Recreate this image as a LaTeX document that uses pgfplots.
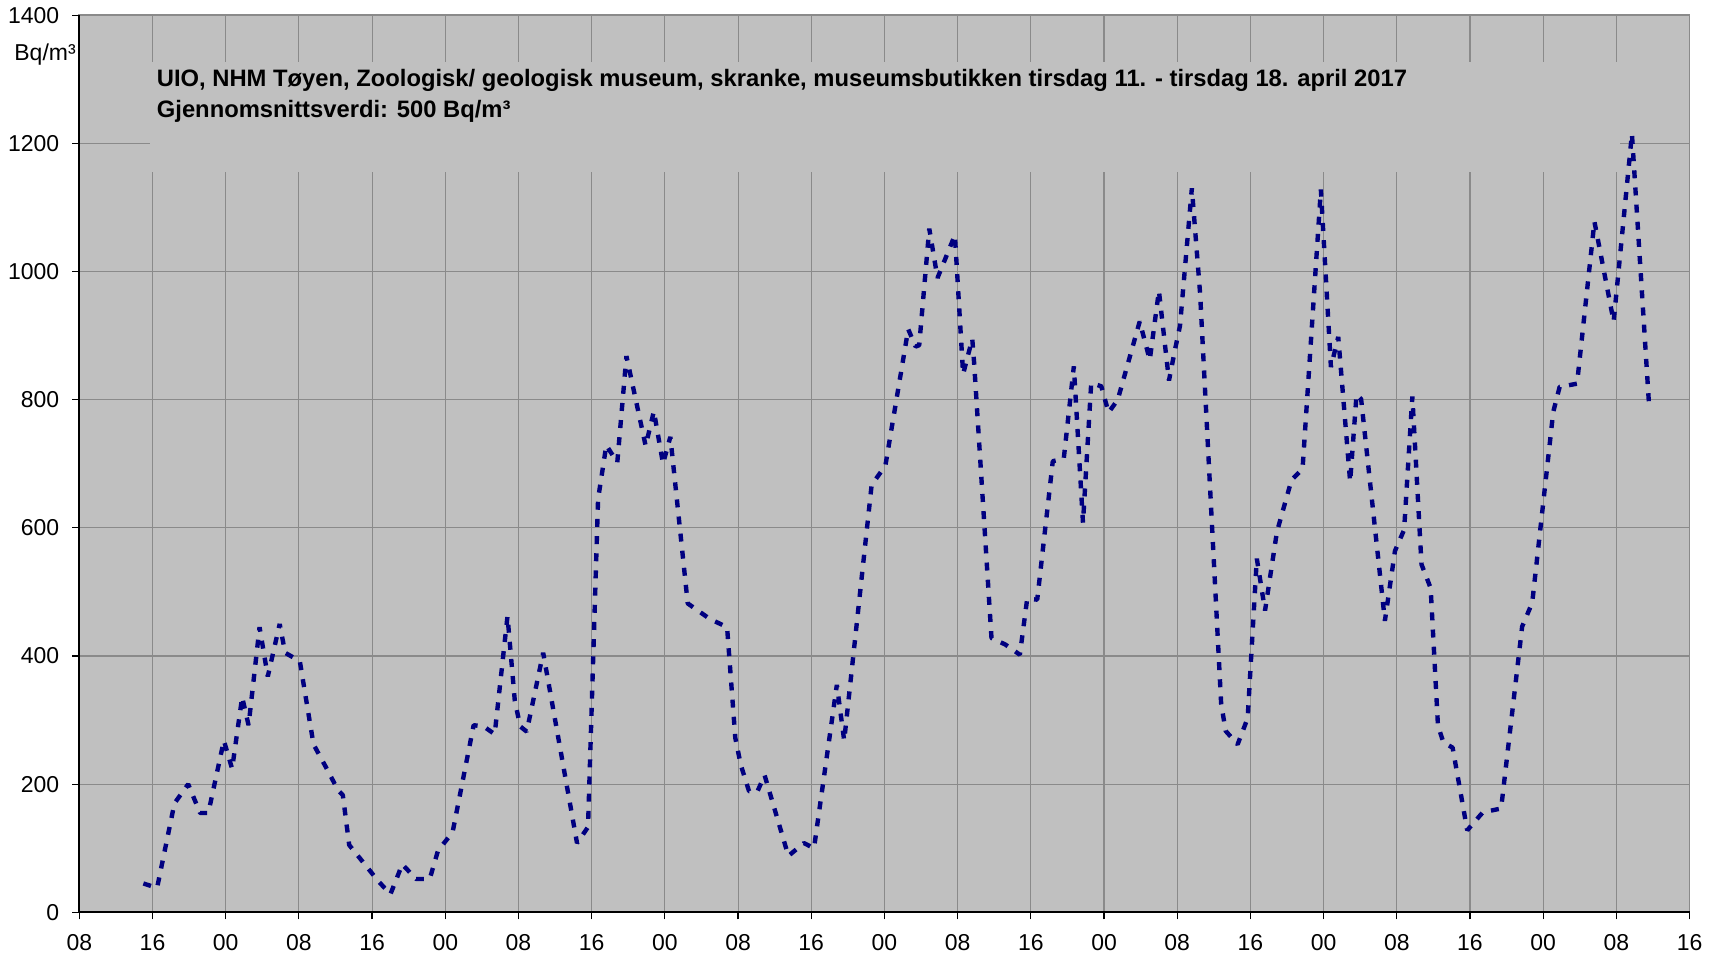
\documentclass[border=0pt]{standalone}
\usepackage{pgfplots}
\pgfplotsset{compat=1.18}
\usepackage{fontspec}
\setmainfont{Liberation Sans}
\definecolor{bggray}{HTML}{C0C0C0}
\definecolor{gridgray}{HTML}{8A8A8A}
\definecolor{navyline}{HTML}{000080}
\begin{document}
\begin{tikzpicture}
\begin{axis}[
  scale only axis,
  width=806.1pt, height=449.05pt,
  xmin=0, xmax=176, ymin=0, ymax=1400,
  axis background/.style={fill=bggray},
  axis line style={gridgray, line width=0.9pt},
  clip=false,
  xtick={0,8,...,176},
  xticklabels={08,16,00,08,16,00,08,16,00,08,16,00,08,16,00,08,16,00,08,16,00,08,16},
  ytick={0,200,...,1400},
  grid=major,
  major grid style={gridgray, line width=0.55pt},
  tick pos=left,
  tick align=outside,
  major tick length=3.5pt,
  tick style={black, line width=0.6pt},
  /pgf/number format/assume math mode=true,
  /pgf/number format/1000 sep={},
  ticklabel style={font=\fontsize{11.5}{13}\selectfont, black},
  xticklabel style={yshift=-4pt},
  yticklabel style={xshift=-3pt},
]
% title box hiding the grid
\fill[bggray] (axis cs:7.7,1156) rectangle (axis cs:168.4,1327);
\node[anchor=base west, inner sep=0pt, font=\fontsize{11.9}{13}\selectfont\bfseries] at (axis cs:8.44,1288.7)
  {UIO, NHM Tøyen, Zoologisk/ geologisk museum, skranke, museumsbutikken tirsdag 11. - tirsdag 18. april 2017};
\node[anchor=base west, inner sep=0pt, font=\fontsize{11.9}{13}\selectfont\bfseries] at (axis cs:8.44,1241.0)
  {Gjennomsnittsverdi: 500 Bq/m³};
\node[anchor=east, inner sep=0pt, font=\fontsize{11.5}{13}\selectfont] at (rel axis cs:-0.002,0.9564) {Bq/m³};

\addplot[navyline, line width=2.2pt, dash pattern=on 4pt off 4.6pt, line join=bevel] coordinates {
(7.0,45) (8.5,38) (10.4,170) (11.9,200) (13.2,155) (14.1,155) (15.8,268) (16.7,224)
(17.8,336) (18.5,292) (19.7,445) (20.6,368) (21.9,450) (22.5,405) (24.1,392) (25.6,262)
(26.9,228) (28.3,190) (28.8,183) (29.5,105) (30.8,82) (32.6,50) (34.0,28) (35.3,75)
(36.8,52) (38.3,52) (39.2,96) (40.8,125) (43.1,292) (44.2,290) (45.4,278) (46.8,462)
(47.6,330) (48.2,290) (48.9,282) (50.7,405) (54.4,108) (55.6,133) (56.7,645) (57.6,729)
(58.8,702) (59.8,868) (61.9,728) (62.8,782) (63.8,700) (64.6,742) (66.5,482) (67.2,475)
(68.9,458) (70.8,445) (71.7,272) (72.3,230) (73.2,189) (74.1,188) (74.9,214) (77.5,88)
(79.2,108) (80.3,100) (82.8,355) (83.6,268) (86.6,667) (88.1,697) (90.6,910) (91.4,883)
(91.8,885) (92.9,1067) (93.8,990) (95.7,1057) (96.6,840) (97.6,895) (97.8,858) (99.7,428)
(101.2,418) (102.8,402) (103.6,489) (104.7,488) (106.4,704) (107.6,708) (108.7,852) (109.7,608)
(110.6,826) (111.7,821) (112.5,780) (113.5,800) (115.9,922) (117.0,862) (118.0,970) (119.1,830)
(119.7,874) (120.3,915) (121.6,1130) (122.5,966) (124.8,326) (125.3,283) (126.6,262) (127.7,303)
(128.7,552) (129.6,471) (130.9,594) (132.5,675) (133.7,692) (135.7,1128) (136.8,851) (137.6,898)
(138.9,672) (139.6,808) (140.1,801) (142.7,455) (143.8,564) (144.8,597) (145.7,805) (146.7,543)
(147.7,506) (148.5,291) (149.1,265) (150.1,257) (151.7,128) (153.4,156) (155.4,162) (157.7,446)
(158.8,483) (161.1,781) (161.8,820) (163.7,825) (165.6,1078) (167.7,922) (169.7,1215) (171.6,785)
};
\draw[black, line width=0.9pt] (rel axis cs:0,1) -- (rel axis cs:0,0) -- (rel axis cs:1,0);
\coordinate (bbll) at (rel axis cs:-0.04925,-0.05411);
\coordinate (bbur) at (rel axis cs:1.01079,1.01704);
\end{axis}
\path (bbll) rectangle (bbur);
\end{tikzpicture}
\end{document}
